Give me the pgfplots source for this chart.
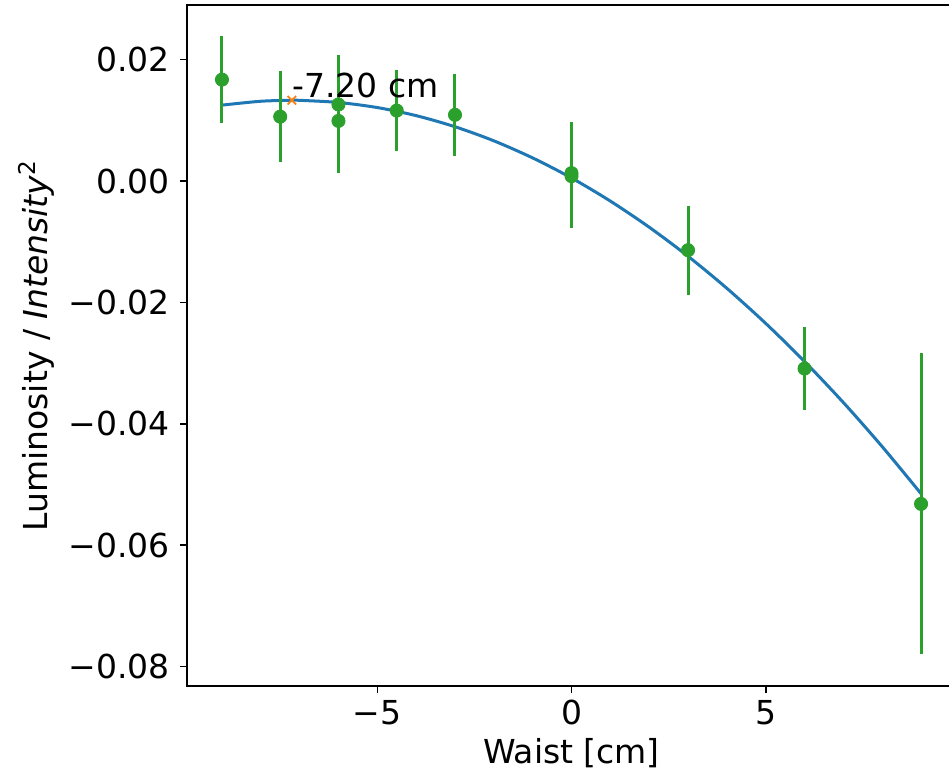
\documentclass[border=0pt]{standalone}
\usepackage{fontspec}
\setmainfont{DejaVu Sans}
\usepackage{pgfplots}
\pgfplotsset{compat=1.18}
\usepackage{pgfplotstable}

\definecolor{mplblue}{HTML}{1F77B4}
\definecolor{mplorange}{HTML}{FF7F0E}
\definecolor{mplgreen}{HTML}{2CA02C}

% measured points: waist, lumi/I^2, error
\pgfplotstableread{
x y ey
-9 0.0167 0.0072
-7.5 0.0106 0.0075
-6 0.0126 0.0081
-6 0.0099 0.0086
-4.5 0.0116 0.0067
-3 0.0109 0.0068
0 0.0013 0.0085
0 0.0008 0.0086
3 -0.0114 0.0073
6 -0.0309 0.0068
9 -0.0532 0.0248
}\meas

% quadratic fit, sampled
\pgfplotstableread{
x y
-9 0.01250
-8 0.01314
-7.2 0.01330
-7 0.01329
-6 0.01294
-5 0.01210
-4 0.01077
-3 0.00894
-2 0.00662
-1 0.00380
0 0.00050
1 -0.00331
2 -0.00761
3 -0.01240
4 -0.01768
5 -0.02346
6 -0.02974
7 -0.03650
8 -0.04377
9 -0.05152
}\fit

\newcommand{\lbl}{\fontsize{16.5}{19}\selectfont}

\begin{document}
\begin{tikzpicture}
\begin{axis}[
  scale only axis,
  width=384.5pt, height=340.5pt,
  xmin=-9.9, xmax=9.9,
  ymin=-0.0832, ymax=0.0290,
  axis line style={line width=0.8pt},
  tick align=outside,
  major tick length=3.5pt,
  every tick/.style={black, line width=0.8pt},
  xtick pos=bottom, ytick pos=left,
  xtick={-5,0,5},
  xticklabels={−5,0,5},
  ytick={0.02,0,-0.02,-0.04,-0.06,-0.08},
  yticklabels={0.02,0.00,−0.02,−0.04,−0.06,−0.08},
  tick label style={font=\lbl},
  yticklabel style={inner sep=0pt, xshift=-5pt},
  xticklabel style={inner sep=0pt, yshift=-3.5pt},
  xlabel={Waist [cm]},
  ylabel={Luminosity / \textit{Intensity}\textsuperscript{2}},
  every axis x label/.style={at={(axis description cs:0.5,-0.099)}, anchor=center, font=\lbl},
  every axis y label/.style={at={(axis description cs:-0.196,0.5)}, anchor=center, rotate=90, font=\lbl},
  clip=false,
]
\coordinate (O) at (rel axis cs:0,0);
\addplot[mplblue, line width=1.5pt, smooth] table[x=x, y=y] {\fit};
\addplot[only marks, mark=*, mark size=3.3pt, mplgreen,
  error bars/.cd, y dir=both, y explicit,
  error mark=none,
  error bar style={mplgreen, line width=1.5pt}]
  table[x=x, y=y, y error=ey] {\meas};
\addplot[only marks, mark=x, mark size=3pt, mplorange, line width=0.9pt] coordinates {(-7.2,0.0133)};
\node[anchor=base west, inner sep=0pt, yshift=1.5pt, font=\lbl] at (axis cs:-7.2,0.0133) {-7.20 cm};
\end{axis}
\pgfresetboundingbox
\path (O) ++(-93.5pt,-43pt) rectangle ++(474.5pt,386pt);
\end{tikzpicture}
\end{document}
